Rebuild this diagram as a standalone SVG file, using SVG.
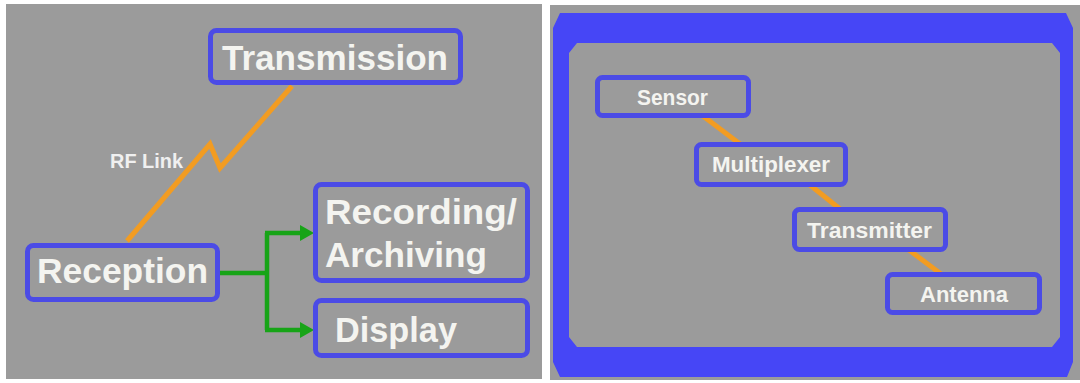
<svg xmlns="http://www.w3.org/2000/svg" width="1080" height="383" viewBox="0 0 1080 383">
  <style>
    .panel { fill: #9b9b9b; }
    .box { fill: #9b9b9b; stroke: #4b4be6; stroke-width: 5; }
    .big { font-family: "Liberation Sans", Arial, sans-serif; font-weight: bold; font-size: 35px; fill: #f4f4f0; }
    .small { font-family: "Liberation Sans", Arial, sans-serif; font-weight: bold; font-size: 22px; fill: #f4f4f0; }
    .label { font-family: "Liberation Sans", Arial, sans-serif; font-weight: bold; font-size: 20px; fill: #f0f0f0; }
    .rf { fill: none; stroke: #f29c22; stroke-width: 5; stroke-linejoin: miter; }
    .chain { fill: none; stroke: #f29c22; stroke-width: 5; }
    .flow { fill: none; stroke: #17a417; stroke-width: 4.5; }
  </style>
  <defs>
    <marker id="arrow" markerUnits="userSpaceOnUse" markerWidth="14" markerHeight="16" refX="0" refY="8" orient="auto">
      <path d="M0,0 L14,8 L0,16 Z" fill="#17a417"/>
    </marker>
  </defs>

  <!-- page background and the two panels -->
  <rect x="0" y="0" width="1080" height="383" fill="#ffffff"/>
  <rect class="panel" x="6" y="4" width="536" height="375"/>
  <rect class="panel" x="550" y="5" width="530" height="375"/>

  <!-- thick blue frame of the right panel -->
  <path id="frame" fill="#4646f6" fill-rule="evenodd"
        d="M560,13 L1066,13 L1073,28 L1073,362 L1067,377 L560,377 L553,362 L553,28 Z
           M577,43 L1052,43 L1060,53 L1060,337 L1052,347 L577,347 L569,337 L569,53 Z"/>

  <!-- connectors -->
  <g id="connectors">
    <polyline class="rf" points="127,241 210,144 220,168 292,86"/>
    <path class="flow" d="M220,273 H267 M267,233 V330"/>
    <path class="flow" d="M265,233 H300" marker-end="url(#arrow)"/>
    <path class="flow" d="M265,330 H300" marker-end="url(#arrow)"/>
    <line class="chain" x1="703" y1="116" x2="740" y2="144"/>
    <line class="chain" x1="810" y1="185" x2="840" y2="209"/>
    <line class="chain" x1="909" y1="250" x2="941" y2="274"/>
  </g>

  <g id="rf-link-label">
    <text class="label" x="110" y="168" textLength="73" lengthAdjust="spacingAndGlyphs">RF Link</text>
  </g>

  <!-- ground station chain -->
  <g id="transmission">
    <rect class="box" x="210.5" y="30.5" width="250" height="52" rx="6"/>
    <text class="big" x="222" y="70" textLength="226" lengthAdjust="spacingAndGlyphs">Transmission</text>
  </g>
  <g id="reception">
    <rect class="box" x="27.5" y="245.5" width="190" height="54" rx="6"/>
    <text class="big" x="37" y="283" textLength="171" lengthAdjust="spacingAndGlyphs">Reception</text>
  </g>
  <g id="recording">
    <rect class="box" x="315.5" y="184.5" width="212" height="96" rx="6"/>
    <text class="big" x="325" y="224" textLength="192" lengthAdjust="spacingAndGlyphs">Recording/</text>
    <text class="big" x="325" y="267" textLength="162" lengthAdjust="spacingAndGlyphs">Archiving</text>
  </g>
  <g id="display">
    <rect class="box" x="315.5" y="300.5" width="212" height="55" rx="6"/>
    <text class="big" x="335" y="342" textLength="122" lengthAdjust="spacingAndGlyphs">Display</text>
  </g>

  <!-- on-board chain -->
  <g id="sensor">
    <rect class="box" x="597.5" y="77.5" width="151" height="38" rx="5"/>
    <text class="small" x="637" y="105" textLength="71" lengthAdjust="spacingAndGlyphs">Sensor</text>
  </g>
  <g id="multiplexer">
    <rect class="box" x="696.5" y="144.5" width="149" height="40" rx="5"/>
    <text class="small" x="712" y="172" textLength="118" lengthAdjust="spacingAndGlyphs">Multiplexer</text>
  </g>
  <g id="transmitter">
    <rect class="box" x="794.5" y="209.5" width="151" height="40" rx="5"/>
    <text class="small" x="807" y="238" textLength="125" lengthAdjust="spacingAndGlyphs">Transmitter</text>
  </g>
  <g id="antenna">
    <rect class="box" x="887.5" y="274.5" width="152" height="38" rx="5"/>
    <text class="small" x="920" y="302" textLength="88" lengthAdjust="spacingAndGlyphs">Antenna</text>
  </g>
</svg>
